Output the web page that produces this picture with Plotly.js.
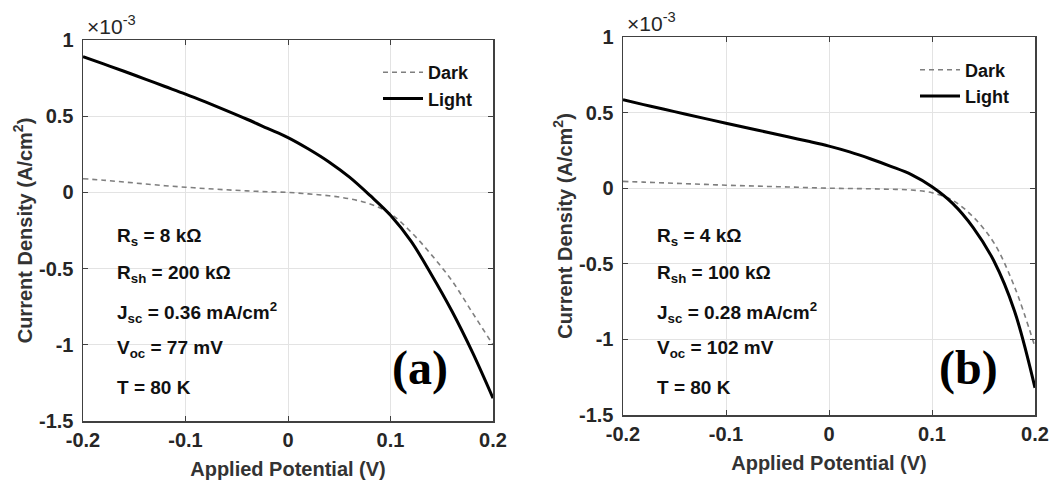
<!DOCTYPE html>
<html>
<head>
<meta charset="utf-8">
<script src="https://cdn.plot.ly/plotly-3.0.1.min.js"></script>
<style>html,body{margin:0;padding:0;background:#fff;}#chart{width:1057px;height:483px;}</style>
</head>
<body>
<div id="chart"></div>
<script>
// Applied potential (V); current density in units of 1e-3 A/cm^2
const potential = [-0.2, -0.18, -0.16, -0.14, -0.12, -0.1, -0.08, -0.06, -0.04, -0.02, 0,
                   0.02, 0.04, 0.06, 0.08, 0.1, 0.12, 0.14, 0.16, 0.18, 0.2];

const aLightJ = [0.89, 0.843, 0.795, 0.745, 0.695, 0.645, 0.592, 0.537, 0.48, 0.42, 0.36,
                 0.285, 0.2, 0.1, -0.02, -0.15, -0.32, -0.54, -0.78, -1.05, -1.35];
const aDarkJ  = [0.09, 0.08, 0.068, 0.056, 0.044, 0.034, 0.025, 0.017, 0.01, 0.004, 0.0,
                 -0.01, -0.022, -0.042, -0.076, -0.14, -0.26, -0.41, -0.58, -0.79, -1.0];

const bLightJ = [0.585, 0.553, 0.522, 0.491, 0.46, 0.43, 0.4, 0.37, 0.34, 0.31, 0.278,
                 0.24, 0.195, 0.145, 0.09, 0.01, -0.1, -0.26, -0.48, -0.81, -1.32];
const bDarkJ  = [0.045, 0.04, 0.035, 0.03, 0.025, 0.02, 0.016, 0.012, 0.008, 0.004, 0.0,
                 -0.002, -0.004, -0.007, -0.012, -0.03, -0.08, -0.19, -0.36, -0.65, -1.05];

const xTickVals = [-0.2, -0.1, 0, 0.1, 0.2];
const xTickText = ['-0.2', '-0.1', '0', '0.1', '0.2'];
const yTickVals = [-1.5, -1, -0.5, 0, 0.5, 1];
const yTickText = ['-1.5', '-1', '-0.5', '0', '0.5', '1'];

const seriesNames = ['Dark', 'Light'];
const paramsA = ['R<sub>s</sub> = 8 kΩ', 'R<sub>sh</sub> = 200 kΩ', 'J<sub>sc</sub> = 0.36 mA/cm<sup>2</sup>', 'V<sub>oc</sub> = 77 mV', 'T = 80 K'];
const paramsB = ['R<sub>s</sub> = 4 kΩ', 'R<sub>sh</sub> = 100 kΩ', 'J<sub>sc</sub> = 0.28 mA/cm<sup>2</sup>', 'V<sub>oc</sub> = 102 mV', 'T = 80 K'];
const panelLabels = ['(a)', '(b)'];

const W = 1057, H = 483;
const FONT = 'Liberation Sans, Arial, sans-serif';
const txt = '#262626';

function px(x){return x / W;}
function py(y){return 1 - y / H;}

const darkStyle = {color: '#7f7f7f', width: 1.6, dash: '5px,4px', shape: 'spline', smoothing: 1};
const lightStyle = {color: '#000000', width: 3, shape: 'spline', smoothing: 1};

const traces = [
  {x: potential, y: aDarkJ, name: seriesNames[0], mode: 'lines', line: darkStyle, xaxis: 'x', yaxis: 'y', legend: 'legend'},
  {x: potential, y: aLightJ, name: seriesNames[1], mode: 'lines', line: lightStyle, xaxis: 'x', yaxis: 'y', legend: 'legend'},
  {x: potential, y: bDarkJ, name: seriesNames[0], mode: 'lines', line: darkStyle, xaxis: 'x2', yaxis: 'y2', legend: 'legend2'},
  {x: potential, y: bLightJ, name: seriesNames[1], mode: 'lines', line: lightStyle, xaxis: 'x2', yaxis: 'y2', legend: 'legend2'}
];

function xAxis(domain, anchor){
  return {
    domain: domain, anchor: anchor, range: [-0.2, 0.2],
    tickmode: 'array', tickvals: xTickVals, ticktext: xTickText,
    ticks: 'inside', ticklen: 5, tickcolor: '#404040', tickwidth: 1,
    showline: true, linecolor: '#404040', linewidth: 1.5, mirror: 'ticks',
    showgrid: true, gridcolor: '#e3e3e3', gridwidth: 1, zeroline: false,
    tickfont: {family: FONT, size: 20, color: txt, weight: 'bold'},
    title: {text: 'Applied Potential (V)', font: {family: FONT, size: 20, color: '#333', weight: 'bold'}, standoff: 12}
  };
}
function yAxis(domain, anchor){
  return {
    domain: domain, anchor: anchor, range: [-1.5, 1],
    tickmode: 'array', tickvals: yTickVals, ticktext: yTickText,
    ticks: 'inside', ticklen: 5, tickcolor: '#404040', tickwidth: 1,
    showline: true, linecolor: '#404040', linewidth: 1.5, mirror: 'ticks',
    showgrid: true, gridcolor: '#e3e3e3', gridwidth: 1, zeroline: false,
    tickfont: {family: FONT, size: 20, color: txt, weight: 'bold'},
    ticklabelstandoff: 4,
    title: {text: 'Current Density (A/cm<sup>2</sup>)', font: {family: FONT, size: 20, color: '#333', weight: 'bold'}, standoff: 1}
  };
}

const annotations = [];
const lineY = [237, 274, 312, 349, 387];
paramsA.forEach((t, i) => annotations.push({xref: 'paper', yref: 'paper', x: px(115), y: py(lineY[i]), xanchor: 'left', yanchor: 'middle', text: t, showarrow: false, font: {family: FONT, size: 19, color: '#111', weight: 'bold'}}));
paramsB.forEach((t, i) => annotations.push({xref: 'paper', yref: 'paper', x: px(655), y: py(lineY[i]), xanchor: 'left', yanchor: 'middle', text: t, showarrow: false, font: {family: FONT, size: 19, color: '#111', weight: 'bold'}}));
annotations.push({xref: 'paper', yref: 'paper', x: px(420), y: py(368), xanchor: 'center', yanchor: 'middle', text: panelLabels[0], showarrow: false, font: {family: 'Liberation Serif, Times New Roman, serif', size: 48, color: '#000', weight: 'bold'}});
annotations.push({xref: 'paper', yref: 'paper', x: px(968), y: py(368), xanchor: 'center', yanchor: 'middle', text: panelLabels[1], showarrow: false, font: {family: 'Liberation Serif, Times New Roman, serif', size: 48, color: '#000', weight: 'bold'}});
annotations.push({xref: 'paper', yref: 'paper', x: px(85), y: py(25), xanchor: 'left', yanchor: 'middle', text: '×10<sup>-3</sup>', showarrow: false, font: {family: FONT, size: 21, color: txt}});
annotations.push({xref: 'paper', yref: 'paper', x: px(625), y: py(22), xanchor: 'left', yanchor: 'middle', text: '×10<sup>-3</sup>', showarrow: false, font: {family: FONT, size: 21, color: txt}});

const legendBase = {xanchor: 'left', yanchor: 'top', bgcolor: 'rgba(0,0,0,0)', borderwidth: 0, itemwidth: 40, tracegroupgap: 0,
  font: {family: FONT, size: 18, color: '#111', weight: 'bold'}};

const layout = {
  width: W, height: H,
  margin: {l: 0, r: 0, t: 0, b: 0},
  paper_bgcolor: '#fff', plot_bgcolor: '#fff',
  showlegend: true,
  xaxis: xAxis([px(83), px(493)], 'y'),
  yaxis: yAxis([py(421), py(40)], 'x'),
  xaxis2: xAxis([px(623), px(1035)], 'y2'),
  yaxis2: yAxis([py(415), py(37)], 'x2'),
  legend: Object.assign({x: px(378), y: py(54)}, legendBase),
  legend2: Object.assign({x: px(915), y: py(51.5)}, legendBase),
  annotations: annotations
};

Plotly.newPlot('chart', traces, layout, {displayModeBar: false, staticPlot: true});
</script>
</body>
</html>
